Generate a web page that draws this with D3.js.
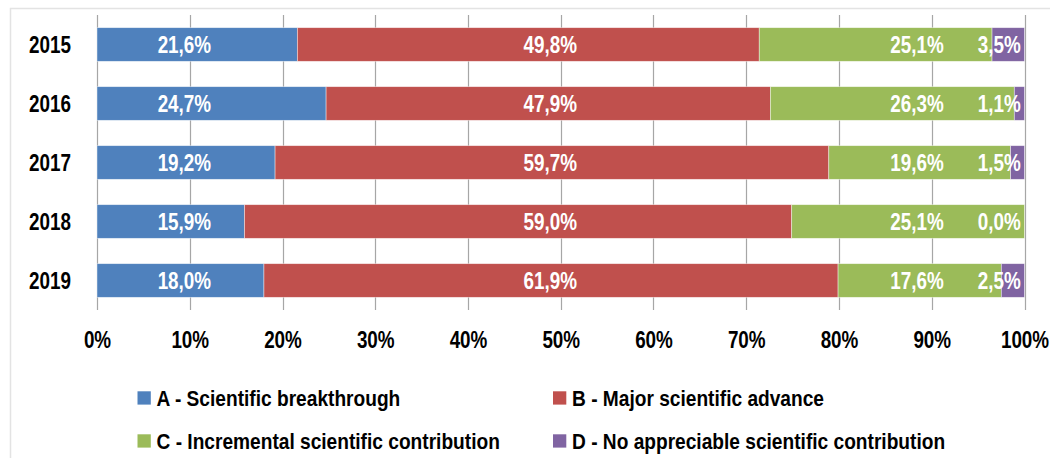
<!DOCTYPE html>
<html>
<head>
<meta charset="utf-8">
<script src="https://cdn.jsdelivr.net/npm/d3@7/dist/d3.min.js"></script>
<style>
  html, body { margin: 0; padding: 0; background: #fff; }
  svg { display: block; }
  text { font-family: "Liberation Sans", Arial, sans-serif; font-weight: bold; }
</style>
</head>
<body>
<svg id="chart" width="1050" height="458"></svg>
<script>
const years = ["2015", "2016", "2017", "2018", "2019"];
const seriesNames = [
  "A - Scientific breakthrough",
  "B - Major scientific advance",
  "C - Incremental scientific contribution",
  "D - No appreciable scientific contribution"
];
const seriesA = [21.6, 24.7, 19.2, 15.9, 18.0];
const seriesB = [49.8, 47.9, 59.7, 59.0, 61.9];
const seriesC = [25.1, 26.3, 19.6, 25.1, 17.6];
const seriesD = [3.5, 1.1, 1.5, 0.0, 2.5];
const xTicks = [0, 10, 20, 30, 40, 50, 60, 70, 80, 90, 100];
const colors = ["#4F81BD", "#C0504D", "#9BBB59", "#8064A2"];

const allSeries = [seriesA, seriesB, seriesC, seriesD];
const svg = d3.select("#chart");
const NARROW = 0.82;

// outer chart border
svg.append("rect").attr("x", 10.5).attr("y", 8.5).attr("width", 1100).attr("height", 600)
  .attr("fill", "none").attr("stroke", "#E3E3E3").attr("stroke-width", 1.5);

const x = d3.scaleLinear().domain([0, 100]).range([97, 1024.5]);
const y = d3.scaleBand().domain(years).range([15, 310]).paddingInner(0.43).paddingOuter(0.215);

// gridlines
svg.append("g").selectAll("line").data(xTicks).join("line")
  .attr("x1", d => Math.round(x(d)) + 0.5).attr("x2", d => Math.round(x(d)) + 0.5)
  .attr("y1", 15).attr("y2", 310)
  .attr("stroke", "#A6A6A6").attr("stroke-width", 1.2);

// stacked data
const rows = years.map((yr, i) => {
  let cum = 0;
  return allSeries.map((s, k) => {
    const r = { year: yr, k, v: s[i], x0: cum, x1: cum + s[i] };
    cum += s[i];
    return r;
  });
});

const segs = rows.flat();
svg.append("g").selectAll("rect").data(segs.filter(d => d.v > 0)).join("rect")
  .attr("x", d => x(d.x0))
  .attr("width", d => x(d.x1) - x(d.x0))
  .attr("y", d => y(d.year))
  .attr("height", y.bandwidth())
  .attr("fill", d => colors[d.k])
  .attr("stroke", "#ffffff").attr("stroke-opacity", 0.6).attr("stroke-width", 0.7);

// data labels (placed at fixed column per series as in the reference)
const labelEnd = [12.3, 51.75, 91.3, 99.6];
const fmt = v => v.toFixed(1).replace(".", ",") + "%";
svg.append("g").selectAll("text").data(segs).join("text")
  .attr("transform", d => `translate(${x(labelEnd[d.k])},${y(d.year) + y.bandwidth() / 2}) scale(${NARROW},1)`)
  .attr("dy", "0.36em")
  .attr("text-anchor", "end")
  .attr("fill", "#fff")
  .attr("font-size", 23)
  .text(d => fmt(d.v));

// y axis labels
svg.append("g").selectAll("text").data(years).join("text")
  .attr("transform", d => `translate(71,${y(d) + y.bandwidth() / 2}) scale(${NARROW},1)`)
  .attr("dy", "0.36em")
  .attr("text-anchor", "end")
  .attr("fill", "#000")
  .attr("font-size", 23)
  .text(d => d);

// x axis labels
const xAxis = d3.axisBottom(x).tickValues(xTicks).tickFormat(d => d + "%").tickSize(0).tickPadding(0);
const gx = svg.append("g").attr("transform", "translate(0,340)").call(xAxis);
gx.select(".domain").remove();
gx.selectAll("text").attr("font-size", 23).attr("fill", "#000").attr("dy", "0.36em")
  .attr("y", 0)
  .attr("transform", `scale(${NARROW},1)`)
  .style("font-family", "\"Liberation Sans\", Arial, sans-serif")
  .style("font-weight", "bold");

// legend
const legendPos = [
  { sx: 137.5, ty: 398 },
  { sx: 553, ty: 398 },
  { sx: 137.5, ty: 441 },
  { sx: 553, ty: 441 }
];
const lg = svg.append("g").selectAll("g").data(seriesNames).join("g")
  .attr("transform", (d, i) => `translate(${legendPos[i].sx},${legendPos[i].ty})`);
lg.append("rect").attr("x", 0).attr("y", -6.7).attr("width", 13.3).attr("height", 13.3)
  .attr("fill", (d, i) => colors[i]);
lg.append("text").attr("transform", `translate(19,0) scale(0.87,1)`).attr("dy", "0.36em")
  .attr("font-size", 22).attr("fill", "#000").text(d => d);
</script>
</body>
</html>
